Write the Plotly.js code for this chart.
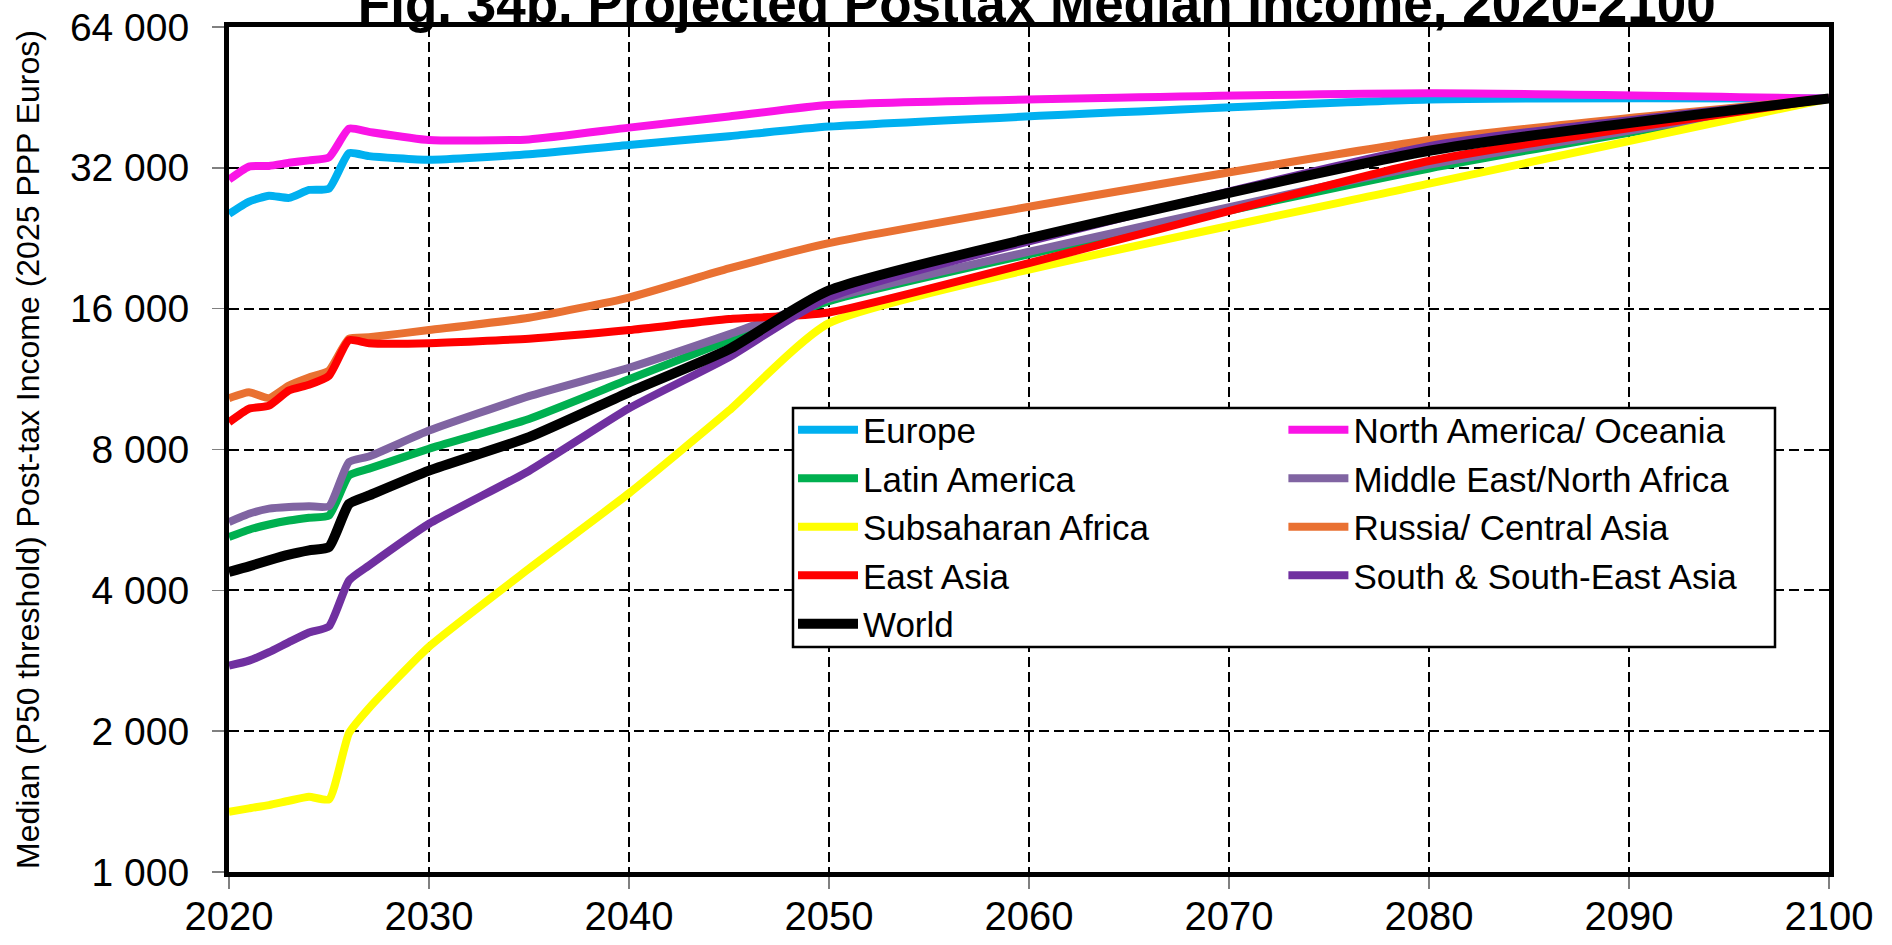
<!DOCTYPE html>
<html>
<head>
<meta charset="utf-8">
<script src="https://cdn.plot.ly/plotly-3.0.1.min.js"></script>
<style>html,body{margin:0;padding:0;background:#fff;}#chart{width:1892px;height:945px;}</style>
</head>
<body>
<div id="chart"></div>
<script>
// ---- data ----
const years = [2020, 2021, 2022, 2023, 2024, 2025, 2026, 2027, 2030, 2035, 2040, 2045, 2050, 2080, 2100];

const europe      = [25500, 27100, 27900, 27600, 28700, 28900, 34400, 33900, 33300, 34200, 35800, 37400, 39200, 44800, 45000];
const northAmerica= [30200, 32200, 32300, 32800, 33200, 33700, 38800, 38200, 36700, 36800, 39000, 41200, 43600, 46200, 45000];
const latinAmerica= [5200, 5390, 5530, 5640, 5720, 5780, 7040, 7280, 8030, 9300, 11300, 13700, 16600, 31900, 45000];
const mena        = [5600, 5830, 5980, 6030, 6050, 6050, 7520, 7730, 8780, 10400, 11960, 14100, 16800, 32500, 45000];
const ssa         = [1345, 1368, 1390, 1420, 1448, 1430, 1980, 2240, 3030, 4450, 6450, 9690, 14900, 29600, 45000];
const russia      = [10300, 10600, 10300, 10960, 11400, 11800, 13800, 13900, 14400, 15300, 16900, 19500, 22100, 36700, 45000];
const eastAsia    = [9150, 9780, 9930, 10700, 11000, 11500, 13700, 13500, 13500, 13800, 14400, 15200, 15700, 33100, 45000];
const southAsia   = [2760, 2830, 2950, 3100, 3250, 3350, 4200, 4520, 5550, 7200, 9800, 12600, 16900, 35600, 45000];
const world       = [4380, 4500, 4640, 4770, 4870, 4950, 6120, 6380, 7210, 8500, 10600, 13100, 17500, 34800, 45000];

const yTickVals = [1000, 2000, 4000, 8000, 16000, 32000, 64000];
const yTickText = ["1 000", "2 000", "4 000", "8 000", "16 000", "32 000", "64 000"];
const xTickVals = [2020, 2030, 2040, 2050, 2060, 2070, 2080, 2090, 2100];

// ---- chart ----
const FONT = "Liberation Sans, Arial, sans-serif";
function tr(name, y, color, legend, width) {
  return {
    x: years, y: y, name: name, type: "scatter", mode: "lines",
    line: {color: color, width: width || 8, shape: "spline", smoothing: 0.5},
    legend: legend, hoverinfo: "skip"
  };
}
const data = [
  tr("Europe", europe, "#00B0F0", "legend"),
  tr("North America/ Oceania", northAmerica, "#FA14E6", "legend2"),
  tr("Latin America", latinAmerica, "#00B050", "legend"),
  tr("Middle East/North Africa", mena, "#8064A2", "legend2"),
  tr("Subsaharan Africa", ssa, "#FFFF00", "legend"),
  tr("Russia/ Central Asia", russia, "#E97132", "legend2"),
  tr("East Asia", eastAsia, "#FF0000", "legend"),
  tr("South & South-East Asia", southAsia, "#7030A0", "legend2"),
  tr("World", world, "#000000", "legend", 10)
];

const legendCommon = {
  orientation: "v", bgcolor: "rgba(0,0,0,0)", borderwidth: 0,
  font: {family: FONT, size: 35, color: "#000"},
  xanchor: "left", yanchor: "top", tracegroupgap: 0, itemwidth: 60,
  traceorder: "normal"
};

const layout = {
  width: 1892, height: 945,
  paper_bgcolor: "#ffffff", plot_bgcolor: "#ffffff",
  margin: {l: 229, r: 63, t: 27, b: 73},
  showlegend: true,
  font: {family: FONT, color: "#000"},
  title: {
    text: "<b>Fig. 34b. Projected Posttax Median Income, 2020-2100</b>",
    font: {family: FONT, size: 53, color: "#000"},
    xref: "container", x: 0.548, xanchor: "center",
    yref: "container", y: 1 - 22/945, yanchor: "bottom"
  },
  xaxis: {
    range: [2020, 2100], tickvals: xTickVals, ticktext: xTickVals.map(String),
    showgrid: true, gridcolor: "#000", gridwidth: 2, griddash: "10px,5px",
    showline: true, linecolor: "#000", linewidth: 5, mirror: true,
    ticks: "outside", ticklen: 12, tickwidth: 1.5, tickcolor: "#808080",
    tickfont: {family: FONT, size: 40, color: "#000"},
    ticklabelstandoff: -7, zeroline: false, fixedrange: true
  },
  yaxis: {
    type: "log", range: [3, Math.log10(64000)],
    tickvals: yTickVals, ticktext: yTickText,
    showgrid: true, gridcolor: "#000", gridwidth: 2, griddash: "10px,5px",
    showline: true, linecolor: "#000", linewidth: 5, mirror: true,
    ticks: "outside", ticklen: 12, tickwidth: 1.5, tickcolor: "#808080",
    tickfont: {family: FONT, size: 39, color: "#000"},
    ticklabelstandoff: 15, zeroline: false, fixedrange: true,
    title: {text: "Median (P50 threshold) Post-tax Income (2025 PPP Euros)",
            font: {family: FONT, size: 32, color: "#000"}, standoff: 22}
  },
  legend: Object.assign({}, legendCommon, {x: 0.3525, y: 0.558}),
  legend2: Object.assign({}, legendCommon, {x: 0.659, y: 0.558}),
  shapes: [{
    type: "rect", xref: "paper", yref: "paper", layer: "above",
    x0: (793-229)/1600, x1: (1775-229)/1600, y0: (872-647)/845, y1: (872-408)/845,
    line: {color: "#000", width: 2.5}, fillcolor: "#ffffff"
  }]
};

Plotly.newPlot("chart", data, layout, {staticPlot: true, displayModeBar: false});
</script>
</body>
</html>
